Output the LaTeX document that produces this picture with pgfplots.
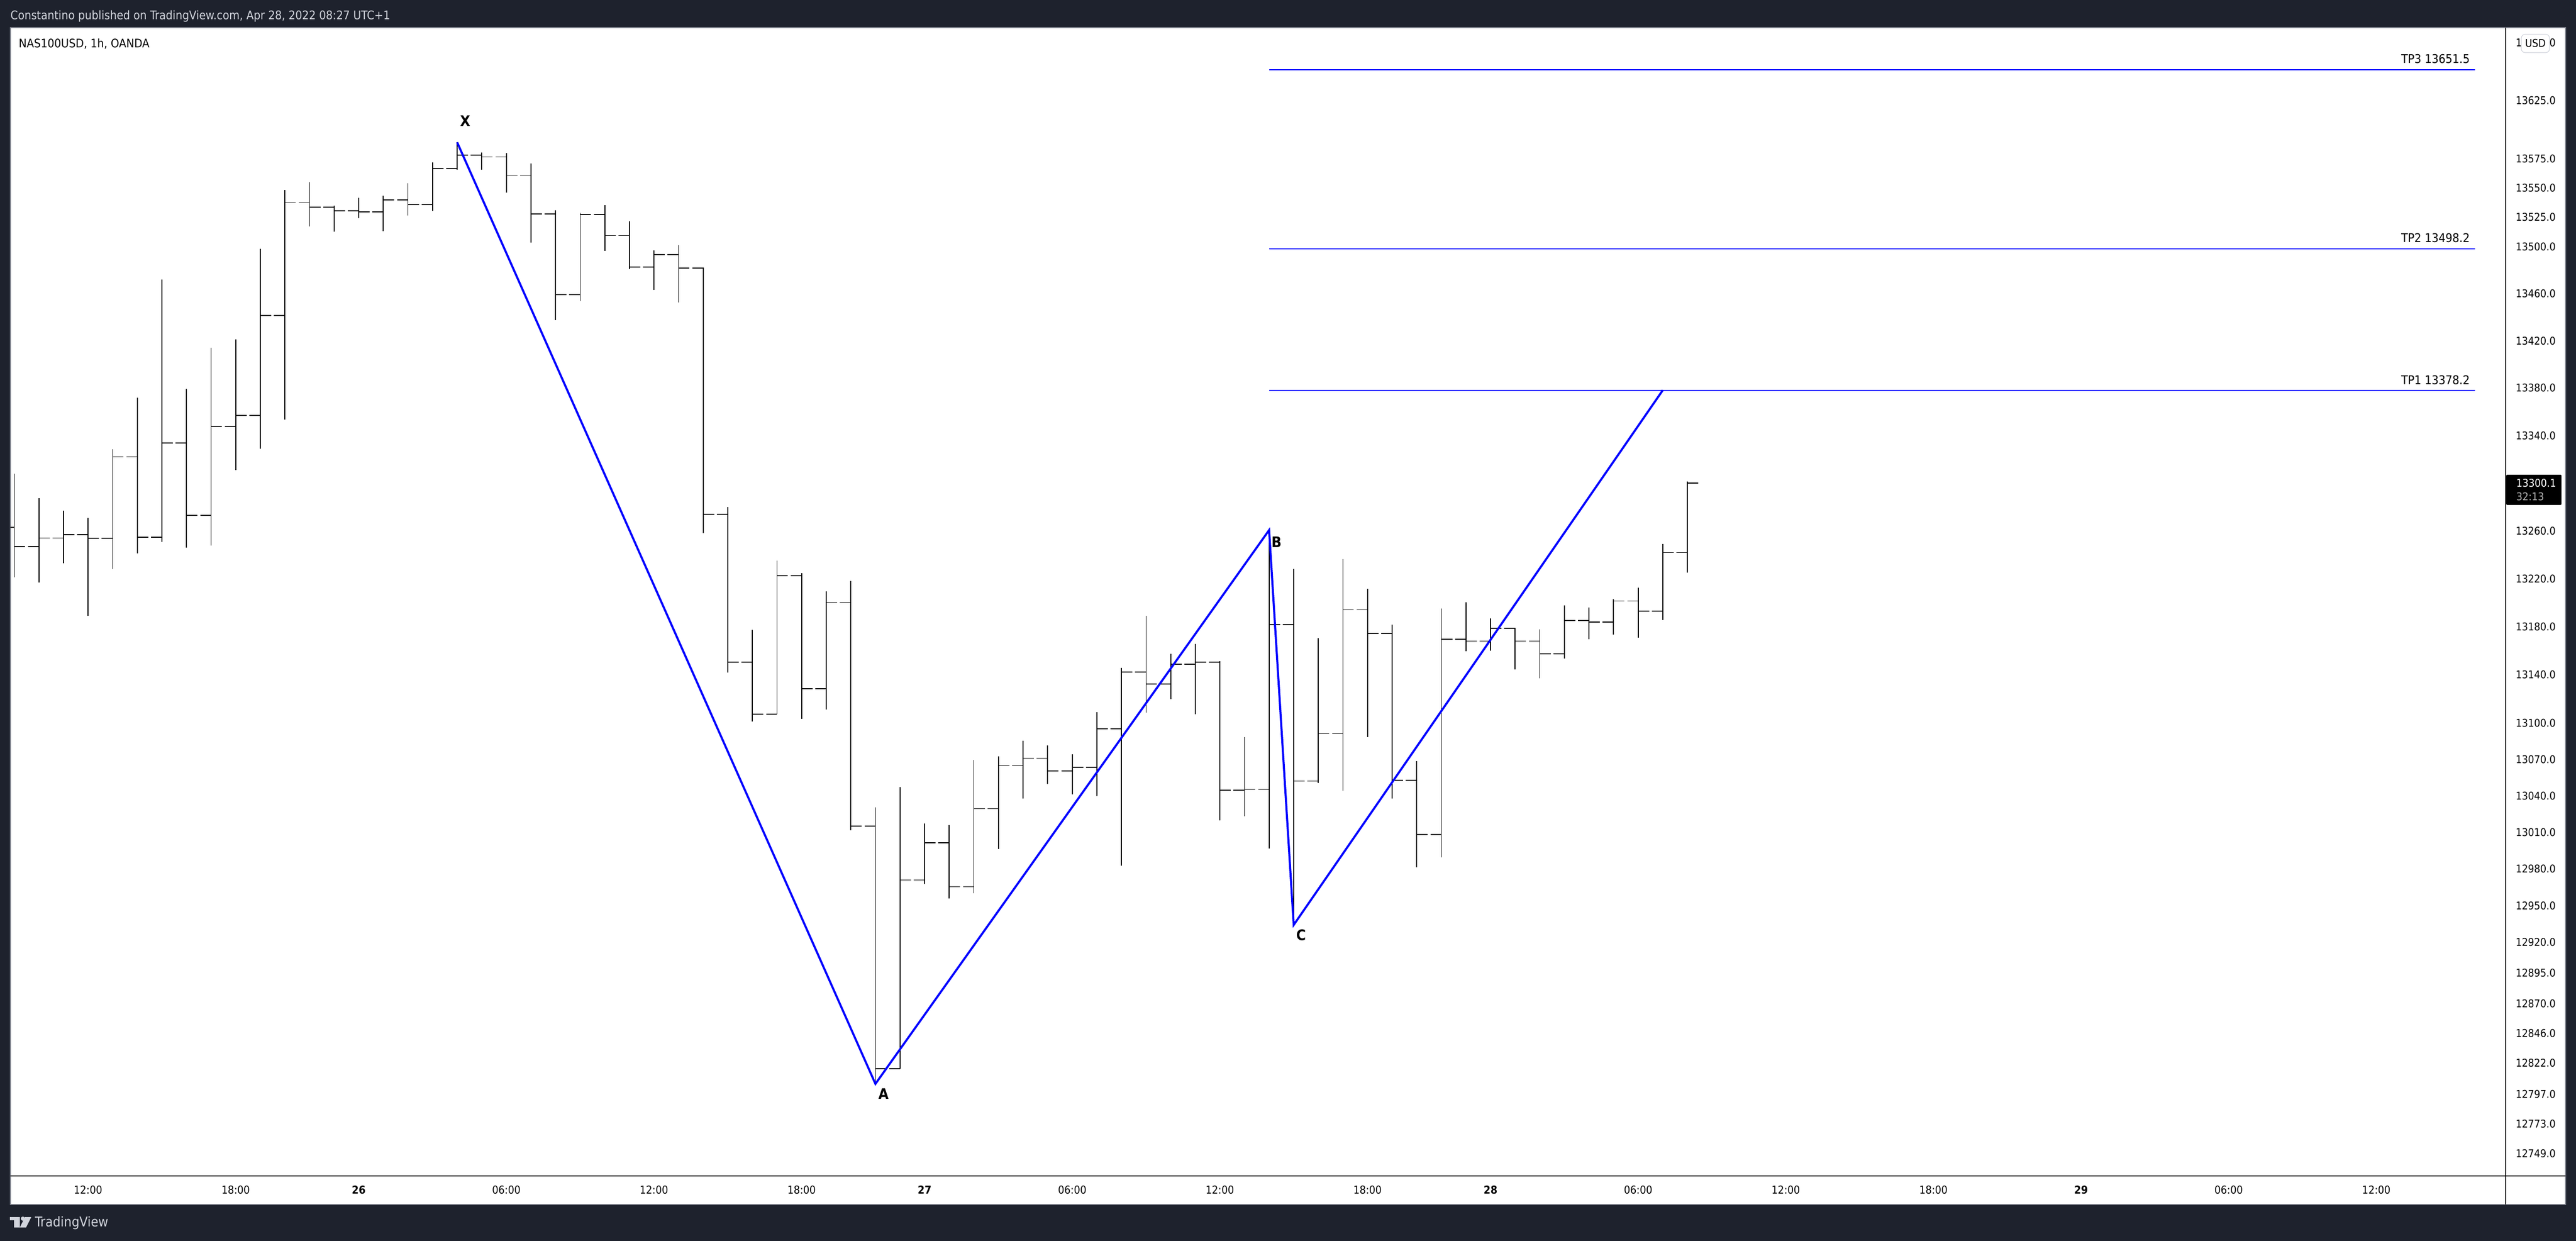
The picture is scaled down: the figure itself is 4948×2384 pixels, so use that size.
\documentclass[border=0pt]{standalone}
\usepackage{pgfplots}
\usepackage{pgfplotstable}
\usepackage{fontspec}
\pgfplotsset{compat=1.18}
\setmainfont{DejaVu Sans Condensed}
\definecolor{tvdark}{HTML}{1E222D}
\definecolor{tvtext}{HTML}{D1D4DC}
\definecolor{tvedge}{HTML}{787B86}
\newcommand\fs[1]{\fontsize{#1}{#1}\selectfont}
\pgfplotstableread{
i open high low close
0 13263.1 13307.9 13221.3 13246.7
1 13246.7 13287.3 13216.8 13254.0
2 13254.0 13277.0 13232.9 13257.0
3 13257.0 13270.9 13188.9 13253.7
4 13253.7 13328.6 13228.2 13322.1
5 13322.1 13372.0 13241.2 13254.8
6 13254.8 13472.0 13250.6 13333.6
7 13333.6 13379.5 13245.9 13273.1
8 13273.1 13414.3 13247.6 13347.9
9 13347.9 13421.3 13311.0 13357.1
10 13357.1 13498.0 13328.9 13441.6
11 13441.6 13548.5 13353.5 13537.4
12 13537.4 13555.0 13517.3 13533.7
13 13533.7 13535.1 13512.7 13530.6
14 13530.6 13541.7 13524.1 13529.5
15 13529.5 13543.3 13513.0 13540.0
16 13540.0 13554.2 13526.4 13536.0
17 13536.0 13572.0 13530.3 13566.6
18 13566.6 13589.1 13565.5 13578.3
19 13578.3 13580.3 13565.5 13576.6
20 13576.6 13579.7 13545.9 13561.0
21 13561.0 13571.1 13503.6 13527.9
22 13527.9 13531.0 13437.3 13459.3
23 13459.3 13528.7 13454.0 13527.5
24 13527.5 13535.5 13496.1 13509.4
25 13509.4 13521.7 13481.0 13482.7
26 13482.7 13496.8 13462.9 13493.3
27 13493.3 13501.3 13452.7 13481.8
28 13481.8 13482.1 13258.0 13273.7
29 13273.7 13280.0 13141.9 13150.7
30 13150.7 13177.5 13101.2 13107.6
31 13107.6 13235.0 13107.6 13222.6
32 13222.6 13224.5 13103.4 13128.7
33 13128.7 13209.5 13111.1 13200.1
34 13200.1 13218.1 13011.8 13015.3
35 13015.3 13030.7 12806.3 12817.3
36 12817.3 13047.4 12817.3 12971.0
37 12971.0 13017.4 12967.7 13001.6
38 13001.6 13016.1 12955.8 12965.5
39 12965.5 13069.7 12960.1 13029.5
40 13029.5 13072.7 12996.3 13065.1
41 13065.1 13085.6 13037.7 13071.1
42 13071.1 13081.8 13049.7 13060.7
43 13060.7 13074.4 13041.3 13063.7
44 13063.7 13109.2 13039.9 13095.5
45 13095.5 13145.8 12982.7 13142.2
46 13142.2 13189.1 13108.9 13132.3
47 13132.3 13157.6 13119.9 13148.8
48 13148.8 13165.9 13107.3 13150.7
49 13150.7 13151.6 13019.7 13044.6
50 13044.6 13088.6 13023.2 13045.4
51 13045.4 13260.3 12996.8 13181.6
52 13181.6 13228.1 12935.7 13052.2
53 13052.2 13170.6 13050.8 13091.3
54 13091.3 13236.4 13044.3 13194.1
55 13194.1 13211.8 13088.3 13174.4
56 13174.4 13181.9 13037.7 13053.0
57 13053.0 13068.9 12981.3 13008.3
58 13008.3 13195.2 12989.5 13169.5
59 13169.5 13200.4 13159.6 13168.1
60 13168.1 13186.9 13160.1 13178.8
61 13178.8 13179.0 13144.4 13168.1
62 13168.1 13178.0 13137.0 13157.6
63 13157.6 13197.9 13153.4 13185.2
64 13185.2 13196.1 13169.8 13184.0
65 13184.0 13203.1 13173.3 13201.4
66 13201.4 13212.6 13170.8 13193.1
67 13193.1 13249.0 13185.4 13241.8
68 13241.8 13301.3 13225.0 13300.1
}\ohlc
\begin{document}
\begin{tikzpicture}[x=1pt,y=1pt]
\useasboundingbox (0,0) rectangle (4948,-2384);
\fill[tvdark] (0,0) rectangle (4948,-2384);
\fill[white,draw=tvedge,line width=1.5pt] (20,-53) rectangle (4928,-2314);
\begin{axis}[
  at={(20pt,-2259pt)}, anchor=south west,
  width=4793pt, height=2205pt, scale only axis,
  y coord trafo/.code={\pgfmathsetmacro\tvw{(#1-13000)/100}\pgfmathparse{\tvw*(234.1538-\tvw*(0.90059-0.00462*\tvw))}},
  xmin=-0.1566, xmax=101.26,
  ymin=12731.0, ymax=13687.4,
  axis x line=bottom, axis y line=right,
  axis line style={-, black, line width=2pt},
  major tick length=0pt, minor tick num=0,
  xtick={3,9,14,20,26,32,37,43,49,55,60,66,72,78,84,90,96},
  xticklabels={12:00,18:00,\textbf{26},06:00,12:00,18:00,\textbf{27},06:00,12:00,18:00,\textbf{28},06:00,12:00,18:00,\textbf{29},06:00,12:00},
  xticklabel style={font=\fs{21}, anchor=center, yshift=-27pt, inner sep=0pt, text=black},
  ytick={12749,12773,12797,12822,12846,12870,12895,12920,12950,12980,13010,13040,13070,13100,13140,13180,13220,13260,13340,13380,13420,13460,13500,13525,13550,13575,13625,13675},
  yticklabels={12749.0,12773.0,12797.0,12822.0,12846.0,12870.0,12895.0,12920.0,12950.0,12980.0,13010.0,13040.0,13070.0,13100.0,13140.0,13180.0,13220.0,13260.0,13340.0,13380.0,13420.0,13460.0,13500.0,13525.0,13550.0,13575.0,13625.0,13675.0},
  yticklabel style={font=\fs{20.6}, anchor=west, xshift=19pt, inner sep=0pt, text=black},
]
\pgfplotsinvokeforeach{0,...,68}{
  \pgfplotstablegetelem{#1}{open}\of\ohlc \let\vo\pgfplotsretval
  \pgfplotstablegetelem{#1}{high}\of\ohlc \let\vh\pgfplotsretval
  \pgfplotstablegetelem{#1}{low}\of\ohlc \let\vl\pgfplotsretval
  \pgfplotstablegetelem{#1}{close}\of\ohlc \let\vc\pgfplotsretval
  \pgfmathsetmacro\xa{#1-0.444}
  \pgfmathsetmacro\xb{#1+0.444}
  \addplot[black, line width=1.8pt, forget plot] coordinates {(#1,\vl) (#1,\vh)};
  \addplot[black, line width=1.8pt, forget plot] coordinates {(\xa,\vo) (#1,\vo)};
  \addplot[black, line width=1.8pt, forget plot] coordinates {(#1,\vc) (\xb,\vc)};
}
% targets
\addplot[blue, line width=2pt] coordinates {(51,13651.5) (100,13651.5)};
\addplot[blue, line width=2pt] coordinates {(51,13498.2) (100,13498.2)};
\addplot[blue, line width=2pt] coordinates {(51,13378.2) (100,13378.2)};
% XABCD
\addplot[blue, line width=4pt, line join=miter] coordinates {(18,13589.1) (35,12805.2) (51,13260.6) (52,12934.3) (67,13378.2)};
\end{axis}
% panel lines continuing beyond the axis
\draw[black,line width=2pt] (4813,-2259) -- (4813,-2314);
\draw[black,line width=2pt] (4813,-2259) -- (4928,-2259);
\draw[black,line width=2pt] (4813,-53) -- (4813,-60);
% last price tag
\fill[black,rounded corners=2pt] (4814,-912) rectangle (4920,-970);
\node[font=\fs{20.6},text=white,anchor=west,inner sep=0pt] at (4833,-928) {13300.1};
\node[font=\fs{20.6},text=white!70!black,anchor=west,inner sep=0pt] at (4833,-954) {32:13};
% currency
\draw[fill=white,draw=tvtext,line width=1.2pt,rounded corners=7pt] (4843,-66) rectangle (4897,-101);
\node[font=\fs{20.6},anchor=center,inner sep=0pt] at (4870,-83) {USD};
% header and footer
\node[font=\fs{22.8},text=tvtext,anchor=west,inner sep=0pt] at (20,-31) {Constantino published on TradingView.com, Apr 28, 2022 08:27 UTC+1};
\node[font=\fs{22.7},anchor=west,inner sep=0pt] at (36,-84) {NAS100USD, 1h, OANDA};
\node[font=\fs{26},text=tvtext,anchor=west,inner sep=0pt] at (67,-2349) {TradingView};
\fill[tvtext] (19,-2338) rectangle (38,-2344) (27,-2338) rectangle (38,-2358);
\fill[tvtext] (44,-2341) circle (4);
\fill[tvtext] (48,-2338) -- (60,-2338) -- (50,-2358) -- (38,-2358) -- cycle;
% pattern letters
\node[font=\fs{28}\bfseries,anchor=center,inner sep=0pt] at (893.5,-232) {X};
\node[font=\fs{28}\bfseries,anchor=center,inner sep=0pt] at (1697,-2101) {A};
\node[font=\fs{28}\bfseries,anchor=center,inner sep=0pt] at (2452,-1041.6) {B};
\node[font=\fs{28}\bfseries,anchor=center,inner sep=0pt] at (2499,-1796) {C};
% target labels
\node[font=\fs{23.2},anchor=east,inner sep=0pt] at (4744,-113) {TP3 13651.5};
\node[font=\fs{23.2},anchor=east,inner sep=0pt] at (4744,-457) {TP2 13498.2};
\node[font=\fs{23.2},anchor=east,inner sep=0pt] at (4744,-729.6) {TP1 13378.2};
\end{tikzpicture}
\end{document}
